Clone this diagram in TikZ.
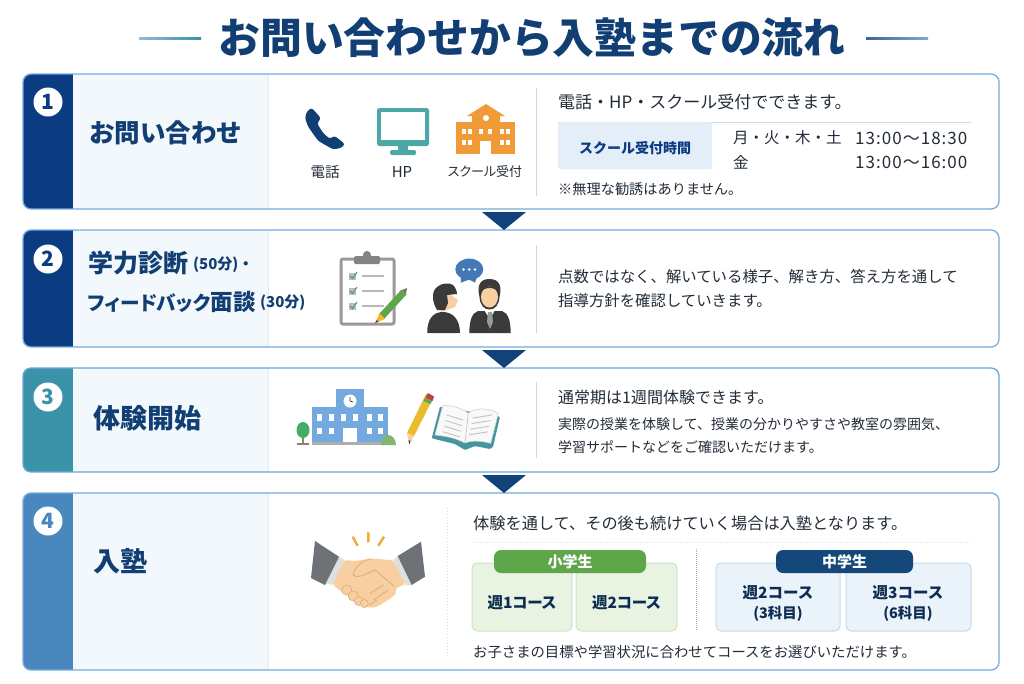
\documentclass[tikz,border=0pt]{standalone}
\usepackage{fontspec}
\setmainfont{Noto Sans CJK JP}
\newfontfamily\paltfont[RawFeature=+palt]{Noto Sans CJK JP}
\newfontfamily\timefont[LetterSpace=6]{Noto Sans CJK JP}
\usetikzlibrary{calc}
\definecolor{navy}{HTML}{123F73}
\definecolor{side1}{HTML}{0B3C82}
\definecolor{side3}{HTML}{3A93A8}
\definecolor{side4}{HTML}{4A87BE}
\definecolor{edge}{HTML}{76ACDD}
\definecolor{panel}{HTML}{F3F8FD}
\definecolor{ink}{HTML}{222C38}
\definecolor{sepc}{HTML}{CBD9E6}
\definecolor{tri}{HTML}{12427A}
\definecolor{skin}{HTML}{F7CFA0}
\definecolor{skind}{HTML}{E5AF7A}
\definecolor{orangei}{HTML}{F09B38}
\definecolor{teali}{HTML}{4FA6A6}
\definecolor{bluei}{HTML}{74A9E0}
\definecolor{greyi}{HTML}{9A9A9A}
\definecolor{darkg}{HTML}{3A3A3A}
\definecolor{greenp}{HTML}{5FA54A}
\definecolor{greenb}{HTML}{E8F3E2}
\definecolor{greene}{HTML}{CFE3C6}
\definecolor{bluep}{HTML}{14487A}
\definecolor{blueb}{HTML}{EAF2FA}
\definecolor{bluee}{HTML}{C5DAEE}
\definecolor{cuffc}{HTML}{6E7276}
\tikzset{
 tx/.style={font=\fontsize{#1}{#1}\selectfont,inner sep=0pt,anchor=west,text=ink},
 tc/.style={font=\fontsize{#1}{#1}\selectfont,inner sep=0pt,anchor=center,text=ink},
 tb/.style={font=\fontsize{#1}{#1}\selectfont\bfseries,inner sep=0pt,anchor=center,text=navy!70!black},
 head/.style={font=\fontsize{#1}{#1}\selectfont\bfseries,inner sep=0pt,anchor=west,text=navy},
 cardbox/.style={draw=edge,line width=1.3pt,rounded corners=8pt,inner sep=0pt,fill=none},
 numc/.style={circle,fill=white,minimum size=29pt,inner sep=0pt,font=\fontsize{21}{21}\selectfont\bfseries},
 sep/.style={draw=sepc,line width=1pt},
 arrowtri/.style={fill=tri},
 course/.style={rounded corners=5pt,line width=1pt},
 pill/.style={rounded corners=7pt,text=white,inner sep=0pt,font=\fontsize{15}{15}\selectfont\bfseries},
}
\newcommand{\cardbg}[3]{% y1,y2,color
 \begin{scope}
 \clip[rounded corners=8pt] (23,#1) rectangle (999,#2);
 \fill[white] (23,#1) rectangle (999,#2);
 \fill[panel] (73,#1) rectangle (268,#2);
 \fill[#3] (23,#1) rectangle (73,#2);
 \draw[sepc!50,line width=.6pt] (268,#1) -- (268,#2);
 \end{scope}
}
\begin{document}
\begin{tikzpicture}[x=1pt,y=-1pt]
\useasboundingbox (0,0) rectangle (1024,683);
\fill[white] (0,0) rectangle (1024,683);
% title
\node[inner sep=0pt,anchor=center,text=navy,font=\fontsize{41.8}{41.8}\selectfont\bfseries] (title) at (532,38) {お問い合わせから入塾までの流れ};
\shade[left color=side4!60,right color=side3] (139,37) rectangle (201,39);
\shade[left color=side1!80,right color=side4!70] (866,37) rectangle (928,39);
% card backgrounds
\cardbg{74}{209}{side1}
\cardbg{230}{347}{side1}
\cardbg{368}{472}{side3}
\cardbg{493}{670}{side4}
\node[cardbox,minimum width=976pt,minimum height=135pt] (card1) at (511,141.5) {};
\node[cardbox,minimum width=976pt,minimum height=117pt] (card2) at (511,288.5) {};
\node[cardbox,minimum width=976pt,minimum height=104pt,draw=edge!80!side3] (card3) at (511,420) {};
\node[cardbox,minimum width=976pt,minimum height=177pt] (card4) at (511,581.5) {};
% flow triangles
\coordinate (a1) at (504,230); \coordinate (a2) at (504,368); \coordinate (a3) at (504,493);
\fill[arrowtri] (482,212) -- (526,212) -- (a1) -- cycle;
\fill[arrowtri] (482,350) -- (526,350) -- (a2) -- cycle;
\fill[arrowtri] (482,475) -- (526,475) -- (a3) -- cycle;
% numbers
\node[numc,text=side1] (n1) at (48,102) {1};
\node[numc,text=side1] (n2) at (48,259) {2};
\node[numc,text=side3] (n3) at (48,397) {3};
\node[numc,text=side4] (n4) at (48,521) {4};
% headings
\node[head=25.5] (h1) at (89,133) {お問い合わせ};
\node[head=25] (h2a) at (88,263) {学力診断};
\node[head=15] (h2b) at (193,265) {(50分)・};
\node[head=22.5] (h2c) at (88,302) {\paltfont\bfseries\fontsize{19.6}{19.6}\selectfont フィードバック\fontsize{22.5}{22.5}\selectfont 面談};
\node[head=15] (h2d) at (260,303) {(30分)};
\node[head=27] (h3) at (93,418) {体験開始};
\node[head=27] (h4) at (93,561) {入塾};
% separators
\draw[sep] (536,88) -- (536,196);
\draw[sep] (536,245) -- (536,333);
\draw[sep] (536,382) -- (536,458);
\draw[sep,dotted] (447,508) -- (447,657);
% phone
\fill[navy!90!side1,rounded corners=2.5pt] (306.7,111.7) -- (311.7,107.7) -- (321,118.3) -- (317,123.3) -- (323.3,133.3) -- (330,139) -- (334.3,135.7) -- (345,144) -- (341.7,147.7) -- (333.3,149.5) -- (318.3,141) -- (308.3,127) -- (305,118.3) -- cycle;
% monitor
\fill[teali,rounded corners=2.5pt] (377,108) rectangle (429,146);
\fill[white] (381,112) rectangle (425,140);
\fill[teali] (398,146) rectangle (408,151);
\fill[teali,rounded corners=1.5pt] (390,150) rectangle (416,155);
% school 1
\fill[orangei] (456,122) rectangle (515,154);
\fill[orangei] (472,114) rectangle (500,122);
\fill[orangei] (467,116) -- (486,104) -- (505,116) -- cycle;
\fill[white] (486,118) circle (3pt);
\foreach \x in {464,470,481,490,502,508}{\fill[white] (\x-2,129) rectangle (\x+2,134);}
\foreach \x in {464,470,502,508}{\fill[white] (\x-2,140) rectangle (\x+2,145);}
\fill[white] (480,141) rectangle (491,154);
% labels icons
\node[tc=14.5] (l1) at (325,172) {電話};
\node[tc=15] (l2) at (402,172) {HP};
\node[tc=13] (l3) at (485,172) {\paltfont スクール受付};
% card 1 text
\node[tx=17] (t1) at (558,102) {電話・HP・スクール受付でできます。};
\coordinate (rule1) at (558,122); \coordinate (rule2) at (971,122);
\draw[sepc,line width=.8pt] (rule1) -- (rule2);
\fill[blueb!85!bluee,rounded corners=1.5pt] (558,122) rectangle (712,169);
\node[tc=14,font=\fontsize{14}{14}\selectfont\bfseries,text=side1] (rec) at (635,148) {スクール受付時間};
\node[tx=15.5] (d1) at (733,138) {月・火・木・土};
\node[tx=15.5] (d2) at (733,162) {金};
\node[tx=17] (t1a) at (855,138) {\timefont 13:00～18:30};
\node[tx=17] (t1b) at (855,162) {\timefont 13:00～16:00};
\node[tx=14.2] (note) at (558,189) {※無理な勧誘はありません。};
% clipboard
\fill[white,draw=greyi,line width=3pt,rounded corners=2pt] (341,259) rectangle (394,324);
\fill[greyi!85!black,rounded corners=1.5pt] (354,256) rectangle (380,264);
\fill[greyi!85!black] (367,255) circle (4pt);
\foreach \y in {276,291,306}{
 \fill[bluei!50!gray!60] (349,\y-3.5) rectangle (356,\y+3.5);
 \draw[greenp!60!gray,line width=1.2pt] (350,\y) -- (352.5,\y+2.5) -- (357,\y-4);
 \draw[greyi!70,line width=2pt] (362,\y) -- (384,\y);
}
\draw[greenp,line width=7pt] (404,292) -- (382,316);
\fill[orangei!70!yellow] (379.5,313) -- (385,319) -- (375,323) -- cycle;
\fill[darkg] (377,320) -- (375,323) -- (378.5,321.6) -- cycle;
\fill[darkg!70] (402,290) -- (406,294) -- (407,288) -- cycle;
% person left
\fill[darkg] (427.3,333) .. controls (427,318) and (434,312) .. (443,312) .. controls (453,312) and (460,320) .. (460,333) -- cycle;
\fill[skin] (446,291) -- (458,300) -- (455,307) -- (447,310) -- (441,312) -- (440,298) -- cycle;
\fill[darkg] (437,310) .. controls (433,303) and (431,296) .. (435,289) .. controls (440,283) and (449,282) .. (453,285) .. controls (456,288) and (457,292) .. (457,294) -- (447,295) -- (448,303) -- (445,310) -- cycle;
% person right
\fill[darkg] (469.3,333) .. controls (469.5,320) and (472,313) .. (478,311) -- (502,311) .. controls (508,313) and (510.5,320) .. (510.7,333) -- cycle;
\fill[white] (484,310) -- (495,310) -- (490,319) -- cycle;
\fill[greyi] (488,312) -- (492,312) -- (493,322) -- (490,329) -- (487,322) -- cycle;
\fill[darkg] (479.5,297) .. controls (477,287) and (479,279) .. (489.3,279) .. controls (500,279) and (502,287) .. (499.5,297) .. controls (499,305) and (495,309.5) .. (489.5,309.5) .. controls (484,309.5) and (480,305) .. (479.5,297) -- cycle;
\fill[skin] (489.5,297) ellipse (8.5pt and 10.5pt);
\fill[darkg] (480,294) .. controls (480,284) and (499,284) .. (499,294) .. controls (497,289) and (493,288) .. (489.5,288) .. controls (486,288) and (482,289) .. (480,294) -- cycle;
\fill[bluei!55!side1] (469.3,269.3) ellipse (14pt and 10.7pt);
\fill[bluei!55!side1] (461,277) -- (460.7,282.7) -- (468,280) -- cycle;
\fill[bluei!55!side1] (477,277) -- (475,282.5) -- (470,280) -- cycle;
\foreach \x in {463.5,469.3,475}{\fill[white] (\x,269.5) circle (1.4pt);}
% card 2 text
\node[tx=15.4] (t2a) at (558,277) {点数ではなく、解いている様子、解き方、答え方を通して};
\node[tx=15.4] (t2b) at (558,301) {指導方針を確認していきます。};
% school 2
\fill[greyi!80] (312,442) rectangle (388,445);
\fill[bluei] (312,407) rectangle (388,442);
\fill[bluei] (336,389) rectangle (364,407);
\fill[white] (350,401) circle (6.5pt);
\draw[darkg,line width=.7pt] (350,397) -- (350,401) -- (353,402);
\foreach \x in {319,331,343,355,369,380}{\fill[white] (\x-2.5,414) rectangle (\x+2.5,421);}
\foreach \x in {319,331,369,380}{\fill[white] (\x-2.5,428) rectangle (\x+2.5,434);}
\fill[white] (343,428) rectangle (357,442);
\fill[gray!70!brown] (301.5,432) rectangle (304,445);
\fill[gray!70!brown] (297,443) rectangle (309,445);
\fill[side3!50!green!60!gray] (303,430) ellipse (6.5pt and 8pt);
\fill[greenp!80] (381,445) .. controls (381,437) and (385,435) .. (388,435) .. controls (392,435) and (396,439) .. (396,445) -- cycle;
% pencil
\fill[orangei!60!yellow!90!gray] (426,394) -- (433.5,397.5) -- (414,436) -- (407,433) -- cycle;
\fill[skin] (407,433) -- (414,436) -- (409.3,444.3) -- cycle;
\fill[darkg] (408.5,440) -- (410.5,441) -- (409.3,444.3) -- cycle;
\fill[greenp!70!teali] (425,398) -- (432,401) -- (430.5,404) -- (423.5,401) -- cycle;
\fill[red!45!gray] (428,393) -- (434,396.5) -- (432.5,401) -- (425.5,397.5) -- cycle;
% book
\fill[teali!85!side1,rounded corners=1pt] (440,406.7) -- (431.7,438.3) -- (455,444) -- (465,450) -- (475,446) -- (490,449) -- (493,447) -- (500,416.7) -- cycle;
\fill[white!95!gray,draw=gray!35,line width=.6pt] (435,435) -- (442.7,405.7) .. controls (452,405) and (462,408) .. (468.3,413.3) .. controls (473,409) and (486,406) .. (498.3,413.3) -- (490.7,443.3) .. controls (482,441) and (472,440) .. (465,443) .. controls (458,439) and (447,436) .. (435,435) -- cycle;
\draw[gray!45,line width=.7pt] (468.3,413.3) -- (465,443);
\foreach \i in {0,1,2,3}{
 \draw[gray!45,line width=1pt] (446.7-\i*1.2,{415+\i*5.6}) -- (463.3-\i*1.2,{420+\i*5.6});
 \draw[gray!45,line width=1pt] (472.7-\i*1.2,{418+\i*5.6}) -- (491.7-\i*1.2,{415+\i*5.6});
}
% handshake
\fill[skin,rounded corners=3pt] (343.3,560) -- (355,561) -- (371.7,558.3) -- (388.3,560) -- (393.3,560) -- (405.7,584.3) -- (395,588.3) -- (396.7,593.3) -- (388.3,600) -- (375,607.7) -- (368.3,607.7) -- (341.7,591.7) -- (332.3,584.3) -- cycle;
\draw[skind,line width=1pt,line cap=round,line join=round] (371,559) .. controls (360,561) and (355,568) .. (353,575) .. controls (356,578) and (362,576) .. (366,574) -- (375,570) -- (394,586);
\draw[skind,line width=1pt,line cap=round] (370,593.3) -- (383.3,585) (373.3,600) -- (388.3,590) (370,605) -- (376.7,600);
\fill[skin,draw=skind,line width=.7pt] (346.7,590) circle (5pt);
\fill[skin,draw=skind,line width=.7pt] (353.3,596) circle (5pt);
\fill[skin,draw=skind,line width=.7pt] (358.8,601) circle (4.5pt);
\fill[skin,draw=skind,line width=.7pt] (364.3,603.5) circle (4pt);
\fill[gray!25] (339,556.7) -- (344.3,560) -- (332.3,585) -- (325.7,583.3) -- cycle;
\fill[gray!25] (397.7,556) -- (393.3,560) -- (405.7,585) -- (411.7,585) -- cycle;
\fill[cuffc] (315,541) -- (339,556.7) -- (325,585) -- (311,578) -- cycle;
\fill[cuffc] (421,541.7) -- (397.7,556) -- (411.7,585) -- (425,576.7) -- cycle;
\draw[orangei!85!yellow,line width=2.4pt] (352.7,536.7) -- (357.7,545.7) (368.3,532.3) -- (368.3,542.3) (384,536.7) -- (378.3,545.7);
% card 3 text
\node[tx=16] (t3a) at (558,397) {通常期は1週間体験できます。};
\node[tx=14] (t3b) at (558,424) {実際の授業を体験して、授業の分かりやすさや教室の雰囲気、};
\node[tx=14] (t3c) at (558,447) {学習サポートなどをご確認いただけます。};
% card 4 text
\node[tx=16.2] (t4a) at (473,523) {体験を通して、その後も続けていく場合は入塾となります。};
\draw[sepc!70,line width=.5pt,dotted] (472,542) -- (971,542);
\draw[gray!70,line width=1pt,densely dotted] (696,549) -- (696,631);
\node[course,fill=greenb,draw=greene,minimum width=100pt,minimum height=68pt] (c11) at (522,597) {};
\node[course,fill=greenb,draw=greene,minimum width=101pt,minimum height=68pt] (c12) at (626.5,597) {};
\node[course,fill=blueb,draw=bluee,minimum width=124pt,minimum height=68pt] (c21) at (778,597) {};
\node[course,fill=blueb,draw=bluee,minimum width=125pt,minimum height=68pt] (c22) at (908.5,597) {};
\node[tb=15.5] (c11t) at (522,603) {\paltfont\bfseries 週1コース};
\node[tb=15.5] (c12t) at (626.5,603) {\paltfont\bfseries 週2コース};
\node[tb=15.5] (c21a) at (778,593) {週2コース};
\node[tb=14.5] (c21b) at (778,614) {(3科目)};
\node[tb=15.5] (c22a) at (908,593) {週3コース};
\node[tb=14.5] (c22b) at (908,614) {(6科目)};
\node[pill,fill=greenp,minimum width=152pt,minimum height=23pt] (p1) at (570,561.5) {小学生};
\node[pill,fill=bluep,minimum width=137pt,minimum height=23pt] (p2) at (844.5,561.5) {中学生};
\node[tx=14.35] (t4b) at (473,652) {お子さまの目標や学習状況に合わせてコースをお選びいただけます。};
\end{tikzpicture}
\end{document}
